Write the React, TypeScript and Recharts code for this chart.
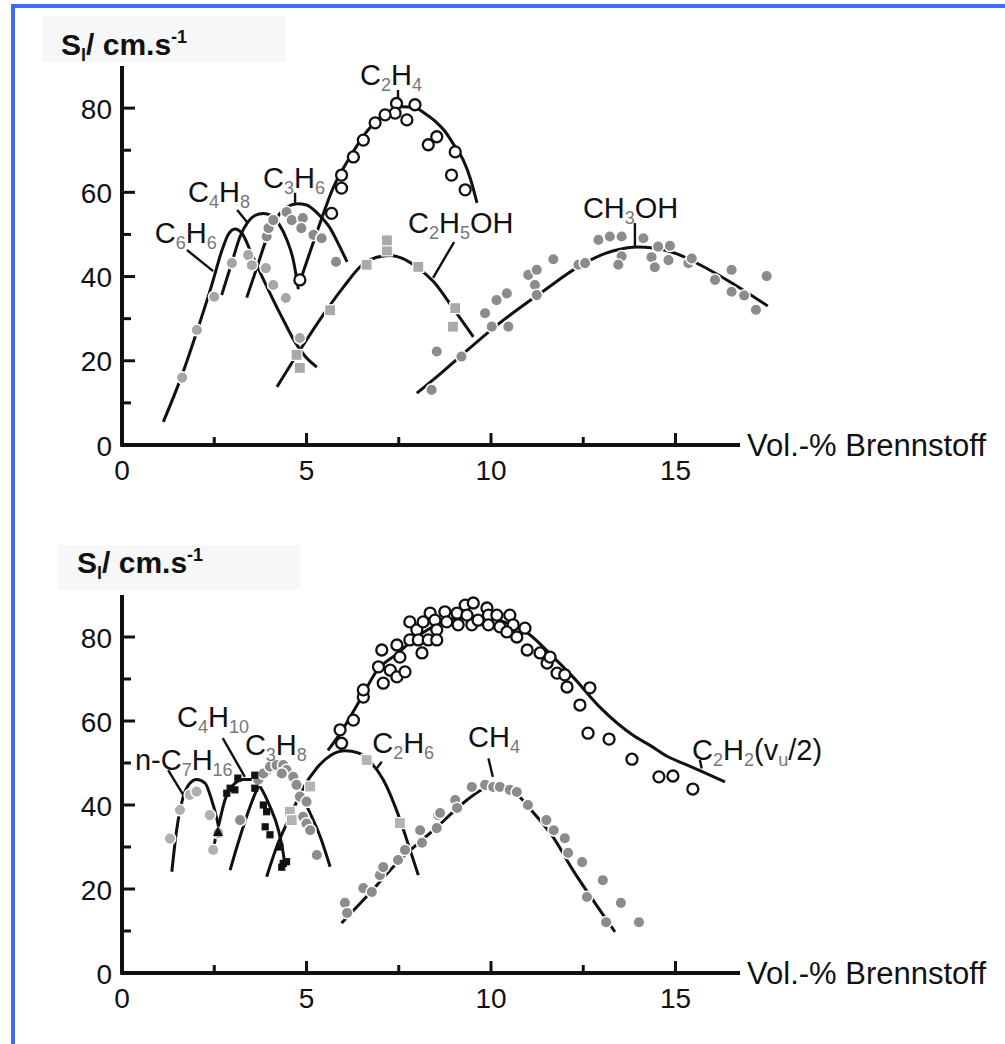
import { ComposedChart, Line, Scatter, XAxis, YAxis, ReferenceLine, ReferenceDot } from "recharts"

type P = number[]

const FONT = "'Liberation Sans', Arial, Helvetica, sans-serif"
const INK = "#111"

// ---- oberes Diagramm: Kurven ----
const c6h6Curve: P[] = [[1.12, 5.5], [1.6, 16], [2.05, 27.5], [2.45, 38.5], [2.7, 46], [2.88, 50], [3.06, 51.3], [3.25, 50.3], [3.55, 44.6], [3.85, 39], [4.1, 34.4], [4.4, 29.2], [4.64, 25.2], [4.95, 21.2], [5.28, 18.5]]
const c4h8Curve: P[] = [[2.7, 35.6], [3.0, 44], [3.2, 49.5], [3.4, 52.8], [3.6, 54.5], [3.83, 55], [4.05, 54.5], [4.25, 52.5], [4.47, 48.7], [4.64, 44], [4.78, 37]]
const c3h6Curve: P[] = [[3.38, 35], [3.65, 42], [3.92, 49], [4.2, 54], [4.47, 56.5], [4.75, 57.3], [5.0, 57], [5.3, 55], [5.64, 51.5], [5.85, 48], [6.1, 43.5]]
const c2h4Curve: P[] = [[4.87, 40], [5.3, 51], [5.72, 61], [6.18, 68.4], [6.64, 74.5], [7.0, 77.8], [7.35, 79.7], [7.6, 80.3], [7.9, 80.2], [8.2, 78.8], [8.5, 76.8], [8.75, 74.5], [9.0, 71.2], [9.24, 67.8], [9.45, 63], [9.62, 57.5]]
const c2h5ohCurve: P[] = [[4.2, 13.8], [4.82, 22.5], [5.5, 31.5], [6.0, 37.5], [6.54, 43], [6.9, 44.6], [7.26, 45], [7.6, 44.3], [7.98, 42.3], [8.44, 38.8], [8.97, 32.5], [9.52, 25.7]]
const ch3ohCurve: P[] = [[7.99, 12.3], [8.6, 16.7], [9.16, 21], [10.24, 29], [11.33, 36], [12.5, 43], [13.1, 45.5], [13.5, 46.5], [13.95, 47], [14.4, 46.8], [15.04, 45.4], [15.66, 42.8], [16.56, 38.3], [17.5, 33]]

// ---- oberes Diagramm: Messpunkte ----
const c2h4Pts: P[] = [[7.44, 81.1], [7.94, 80.8], [7.4, 78.8], [7.13, 78.4], [6.86, 76.5], [7.72, 77.2], [6.54, 72.4], [6.27, 68.4], [5.95, 64.1], [5.95, 61], [5.68, 55], [4.82, 39.2], [8.53, 73.2], [8.3, 71.3], [9.03, 69.6], [8.93, 64.1], [9.3, 60.6]]
const c3h6Pts: P[] = [[3.92, 49.5], [3.97, 51.5], [4.1, 53.4], [4.46, 55.3], [4.6, 53.4], [4.9, 53.9], [4.86, 51.5], [5.19, 49.9], [5.41, 49.1], [5.8, 43.5]]
const c6h6Pts: P[] = [[1.63, 16], [2.03, 27.3], [2.5, 35.2], [2.98, 43.2], [3.42, 45.1], [3.52, 42.7], [3.9, 42], [4.1, 38], [4.44, 34.9], [4.82, 25.4]]
const c2h5ohPts: P[] = [[4.73, 21.4], [4.82, 18.3], [5.64, 32], [6.63, 42.8], [7.18, 46.2], [7.18, 48.6], [8.03, 42.3], [9.03, 32.5], [8.97, 28.1]]
const ch3ohPts: P[] = [[8.39, 13.1], [8.53, 22.2], [9.2, 21], [9.84, 31.3], [10.02, 28.1], [10.15, 34.4], [10.43, 36], [10.47, 28.1], [11.01, 40.4], [11.24, 41.6], [11.19, 38], [11.24, 35.6], [11.69, 44.1], [12.37, 42.8], [12.55, 43.2], [12.91, 48.7], [13.22, 49.5], [13.54, 49.5], [13.54, 44.8], [13.45, 42.8], [14.13, 49.1], [14.35, 44.6], [14.44, 42.2], [14.53, 47.1], [14.85, 47.3], [14.81, 43.9], [15.35, 43.2], [15.44, 44.3], [16.07, 39.2], [16.52, 41.6], [16.52, 36.4], [16.86, 35.5], [17.18, 32.1], [17.47, 40.1]]

const topLabels = [
  { x: 0.89, y: 48, t: "C_6H_6" },
  { x: 1.79, y: 57.7, t: "C_4H_8" },
  { x: 3.82, y: 61, t: "C_3H_6" },
  { x: 6.45, y: 85.5, t: "C_2H_4" },
  { x: 7.75, y: 50.4, t: "C_2H_5OH" },
  { x: 12.49, y: 53.9, t: "CH_3OH" },
]
const topLeaders: P[][] = [[[1.76, 46.3], [2.47, 41.3]], [[3.12, 55.8], [3.41, 52.7]], [[4.69, 59.9], [4.69, 57.5]], [[7.48, 84.3], [7.48, 81.9]], [[9.0, 48.2], [8.43, 39.7]], [[13.9, 52.7], [13.9, 47]]]

// ---- unteres Diagramm: Kurven ----
const nc7h16Curve: P[] = [[1.35, 24.1], [1.48, 34], [1.66, 42], [1.84, 45.2], [2.02, 46.1], [2.25, 45.2], [2.43, 41.2], [2.58, 36.4], [2.67, 32.5]]
const c4h10Curve: P[] = [[2.43, 28.1], [2.61, 34.8], [2.79, 41.2], [3.02, 44.8], [3.29, 46.1], [3.51, 46.1], [3.74, 44.4], [4.01, 39.6], [4.24, 34], [4.37, 28.5], [4.42, 25.3]]
const c3h8Curve: P[] = [[2.93, 24.5], [3.2, 32.5], [3.47, 39.6], [3.7, 44.5], [3.95, 47.4], [4.25, 48.6], [4.5, 47.2], [4.73, 44.4], [5.1, 38], [5.37, 32.5], [5.64, 25.3]]
const c2h6Curve: P[] = [[3.92, 22.9], [4.19, 30], [4.55, 37.2], [4.91, 44], [5.28, 48.8], [5.65, 51.8], [6.05, 52.9], [6.4, 52.4], [6.7, 50.5], [7.08, 46], [7.53, 36.6], [7.8, 29.5], [8.03, 23.3]]
const ch4Curve: P[] = [[5.95, 11.9], [6.63, 18.2], [7.53, 26.9], [8.44, 34], [9.35, 41.2], [9.7, 43.4], [10.06, 44.6], [10.6, 43.2], [11.14, 38.3], [11.68, 32.4], [12.22, 24.5], [12.76, 17.4], [13.36, 9.8]]
const c2h2Curve: P[] = [[5.58, 53], [5.91, 57], [6.45, 65], [6.91, 72], [7.45, 76], [7.99, 80], [8.62, 83.3], [9.35, 84.8], [9.8, 84.9], [10.43, 83.3], [10.98, 81], [11.6, 76], [12.22, 70.5], [12.95, 63.3], [13.85, 56.6], [14.31, 54.2], [14.77, 51.6], [15.21, 49.9], [15.66, 48.2], [16.34, 45.5]]

// ---- unteres Diagramm: Messpunkte ----
const c2h2Pts: P[] = [[5.95, 54.7], [5.91, 57.9], [6.27, 60.2], [6.54, 65.7], [6.54, 67.4], [6.95, 72.9], [7.08, 69], [7.04, 76.9], [7.27, 72.1], [7.45, 70.5], [7.45, 78.1], [7.53, 75.2], [7.67, 71.7], [7.8, 83.6], [7.8, 79.3], [7.99, 81.7], [8.03, 79.3], [8.13, 76.2], [8.16, 83.6], [8.35, 85.7], [8.3, 79.3], [8.48, 84], [8.53, 81.7], [8.53, 79.3], [8.75, 86], [8.8, 83.6], [9.08, 85.7], [9.11, 82.9], [9.3, 87.6], [9.35, 85.2], [9.48, 82.9], [9.52, 88.1], [9.65, 84], [9.89, 86.9], [9.93, 85.2], [9.93, 82.9], [10.16, 85.2], [10.24, 82.4], [10.51, 85.2], [10.6, 82.9], [10.43, 81.2], [10.7, 80], [10.92, 82.1], [10.98, 76.9], [11.33, 76.2], [11.52, 73.8], [11.6, 75.2], [11.79, 71.4], [12.0, 71], [12.06, 68.1], [12.68, 67.9], [12.41, 63.8], [12.63, 57.1], [13.2, 55.7], [13.82, 50.9], [14.55, 46.7], [14.93, 46.9], [15.47, 43.8]]
const nc7h16Pts: P[] = [[1.3, 32], [1.57, 38.8], [1.84, 42.4], [2.02, 43.2], [2.38, 37.6], [2.61, 33.3], [2.47, 29.3]]
const nc7h16Tri: P[] = [[2.6, 33.6]]
const c4h10Pts: P[] = [[2.84, 42.8], [2.93, 44], [3.06, 43.6], [3.14, 46.4], [3.6, 47.1], [3.6, 44], [3.83, 40], [3.92, 38.4], [3.88, 34.8], [4.01, 32.9], [4.28, 30], [4.37, 26.1], [4.46, 26.5], [4.33, 25.2]]
const c3h8Pts: P[] = [[3.2, 36.4], [3.69, 46], [3.83, 47.5], [4.01, 49.1], [4.19, 49.5], [4.37, 49.5], [4.46, 48.3], [4.33, 47.5], [4.64, 46.7], [4.73, 44.8], [4.82, 42], [5.0, 40.8], [4.91, 37.2], [5.0, 35.6], [5.1, 34], [5.28, 28.1]]
const c2h6Pts: P[] = [[4.55, 38.4], [4.6, 36.4], [5.1, 44.4], [6.63, 50.7], [7.53, 35.7]]
const ch4Pts: P[] = [[6.04, 16.7], [6.1, 14.3], [6.54, 20.2], [6.77, 19.3], [6.99, 23.3], [7.08, 25.2], [7.48, 26.9], [7.67, 29.3], [8.08, 34], [8.13, 31], [8.53, 34.5], [8.57, 37.6], [8.62, 38.1], [9.03, 41.2], [9.08, 39.3], [9.48, 44.3], [9.84, 44.8], [10.06, 44.3], [10.24, 44.3], [10.51, 43.6], [10.7, 43.1], [11.0, 40], [11.5, 36.4], [11.7, 34], [12.0, 32.1], [12.09, 28.6], [12.47, 26.4], [13.03, 22.1], [12.6, 18.1], [13.52, 16.7], [13.12, 12.1], [14.01, 12.1]]

const bottomLabels = [
  { x: 0.35, y: 48.3, t: "n-C_7H_16" },
  { x: 1.49, y: 58.6, t: "C_4H_10" },
  { x: 3.33, y: 51.9, t: "C_3H_8" },
  { x: 6.78, y: 52.4, t: "C_2H_6" },
  { x: 9.38, y: 53.8, t: "CH_4" },
  { x: 15.45, y: 50.7, t: "C_2H_2(v_u/2)" },
]
const bottomLeaders: P[][] = [[[1.25, 48.3], [1.66, 42.4]], [[2.73, 55.9], [3.33, 46.7]], [[4.08, 50.7], [4.15, 49.5]], [[7.04, 50.3], [6.9, 48.7]], [[9.93, 51.1], [10.05, 46.7]], [[15.66, 50.7], [15.71, 48.7]]]

const xTicks = [0, 2.5, 5, 7.5, 10, 12.5, 15]
const yTicks = [0, 10, 20, 30, 40, 50, 60, 70, 80]
const xAxisEnd = 16.75

const toXY = (a: P[]) => a.map(([x, y]) => ({ x, y }))

const XTick = (props: any) => {
  const { x, y, payload } = props
  const v = payload.value
  const major = v % 5 === 0
  return (
    <g>
      {v > 0 && <line x1={x} y1={y} x2={x} y2={y - (major ? 12 : 8)} stroke={INK} strokeWidth={3} />}
      {major && (
        <text x={x} y={y + 25} textAnchor="middle" dominantBaseline="central" fontSize={28} fontFamily={FONT} fill={INK}>
          {v}
        </text>
      )}
    </g>
  )
}

const YTick = (props: any) => {
  const { x, y, payload } = props
  const v = payload.value
  const major = v % 20 === 0
  return (
    <g>
      {v > 0 && <line x1={x} y1={y} x2={x + (major ? 13 : 9)} y2={y} stroke={INK} strokeWidth={3} />}
      {major && (
        <text x={x - 10} y={y + 1} textAnchor="end" dominantBaseline="central" fontSize={28} fontFamily={FONT} fill={INK}>
          {v}
        </text>
      )}
    </g>
  )
}

const openCircle = (p: any) => <circle cx={p.cx} cy={p.cy} r={5.5} fill="#fff" stroke={INK} strokeWidth={2.3} />
const dot = (fill: string) => (p: any) => <circle cx={p.cx} cy={p.cy} r={5.8} fill={fill} stroke="#fff" strokeWidth={1.5} />
const square = (fill: string, s: number, edge: string) => (p: any) => (
  <rect x={p.cx - s / 2} y={p.cy - s / 2} width={s} height={s} fill={fill} stroke={edge} strokeWidth={1.2} />
)
const triangle = (p: any) => (
  <path d={`M${p.cx},${p.cy - 6} L${p.cx + 5},${p.cy + 4} L${p.cx - 5},${p.cy + 4} Z`} fill={INK} />
)

const ChemLabel = (p: any) => {
  const parts: string[] = p.payload.t.split(/_([0-9]+|[a-z])/)
  return (
    <text x={p.cx} y={p.cy} fontSize={29} fontFamily={FONT} fill={INK}>
      {parts.map((s, i) =>
        i % 2 ? (
          <tspan key={i} fontSize={18} dy={6} fill="#777">{s}</tspan>
        ) : (
          <tspan key={i} dy={i ? -6 : 0}>{s}</tspan>
        )
      )}
    </text>
  )
}

const axisLabel = (p: any) => (
  <text x={p.cx + 7} y={p.cy} dominantBaseline="central" fontSize={31} fontFamily={FONT} fill={INK}>
    Vol.-% Brennstoff
  </text>
)

type Mark = { data: P[]; shape: any }

const Panel = ({ top, height, margin, curves, leaders, marks, labels }: any) => (
  <div style={{ position: "absolute", left: 0, top }}>
    <ComposedChart width={1005} height={height} margin={margin}>
      <XAxis type="number" dataKey="x" domain={[0, 18]} ticks={xTicks} interval={0} axisLine={false} tickLine={false} tickSize={0} tickMargin={0} height={40} tick={<XTick />} />
      <YAxis type="number" dataKey="y" domain={[0, 90]} ticks={yTicks} interval={0} width={60} axisLine={{ stroke: INK, strokeWidth: 4 }} tickLine={false} tickSize={0} tickMargin={0} tick={<YTick />} />
      <ReferenceLine segment={[{ x: -0.05, y: 0 }, { x: xAxisEnd, y: 0 }]} stroke={INK} strokeWidth={4} ifOverflow="visible" />
      {curves.map((c: P[], i: number) => (
        <Line key={"c" + i} data={toXY(c)} dataKey="y" type="monotone" stroke={INK} strokeWidth={3} dot={false} activeDot={false} isAnimationActive={false} />
      ))}
      {leaders.map((c: P[], i: number) => (
        <Line key={"l" + i} data={toXY(c)} dataKey="y" type="linear" stroke={INK} strokeWidth={2.4} dot={false} activeDot={false} isAnimationActive={false} />
      ))}
      {marks.map((m: Mark, i: number) => (
        <Scatter key={"m" + i} data={toXY(m.data)} dataKey="y" shape={m.shape} isAnimationActive={false} />
      ))}
      <Scatter data={labels} dataKey="y" shape={ChemLabel} isAnimationActive={false} />
      <ReferenceDot x={xAxisEnd} y={0} r={0} shape={axisLabel} ifOverflow="visible" />
    </ComposedChart>
  </div>
)

const Title = ({ x, y, w, h, tx, ty }: any) => (
  <g>
    <rect x={x} y={y} width={w} height={h} fill="#f7f7f7" />
    <text x={tx} y={ty} fontSize={30} fontWeight="bold" fontFamily={FONT} fill={INK}>
      S<tspan fontSize={18} dy={6}>l</tspan>
      <tspan dy={-6}>/ cm.s</tspan>
      <tspan fontSize={18} dy={-12}>-1</tspan>
    </text>
  </g>
)

export default function App() {
  return (
    <div style={{ position: "absolute", left: 0, top: 0, width: 1005, height: 1044, background: "#fff", overflow: "hidden" }}>
      <svg width={1005} height={1044} style={{ position: "absolute", left: 0, top: 0 }}>
        <rect x={11} y={4} width={994} height={4} fill="#3d6bff" />
        <rect x={11} y={4} width={4} height={1040} fill="#3d6bff" />
        <Title x={43} y={16} w={242} h={46} tx={61} ty={55} />
        <Title x={58} y={545} w={242} h={45} tx={77} ty={573} />
      </svg>
      <Panel
        top={0}
        height={500}
        margin={{ top: 66, right: 218.8, bottom: 15, left: 62 }}
        curves={[c6h6Curve, c4h8Curve, c3h6Curve, c2h4Curve, c2h5ohCurve, ch3ohCurve]}
        leaders={topLeaders}
        marks={[
          { data: c2h5ohPts, shape: square("#a9a9a9", 11, "#fff") },
          { data: c6h6Pts, shape: dot("#a6a6a6") },
          { data: c3h6Pts, shape: dot("#8a8a8a") },
          { data: ch3ohPts, shape: dot("#8c8c8c") },
          { data: c2h4Pts, shape: openCircle },
        ]}
        labels={topLabels}
      />
      <Panel
        top={500}
        height={544}
        margin={{ top: 95, right: 218.8, bottom: 31, left: 62 }}
        curves={[nc7h16Curve, c4h10Curve, c3h8Curve, c2h6Curve, ch4Curve, c2h2Curve]}
        leaders={bottomLeaders}
        marks={[
          { data: nc7h16Pts, shape: dot("#b0b0b0") },
          { data: c2h6Pts, shape: square("#b3b3b3", 11, "#fff") },
          { data: c3h8Pts, shape: dot("#8c8c8c") },
          { data: ch4Pts, shape: dot("#8c8c8c") },
          { data: c4h10Pts, shape: square(INK, 6, INK) },
          { data: nc7h16Tri, shape: triangle },
          { data: c2h2Pts, shape: openCircle },
        ]}
        labels={bottomLabels}
      />
    </div>
  )
}
